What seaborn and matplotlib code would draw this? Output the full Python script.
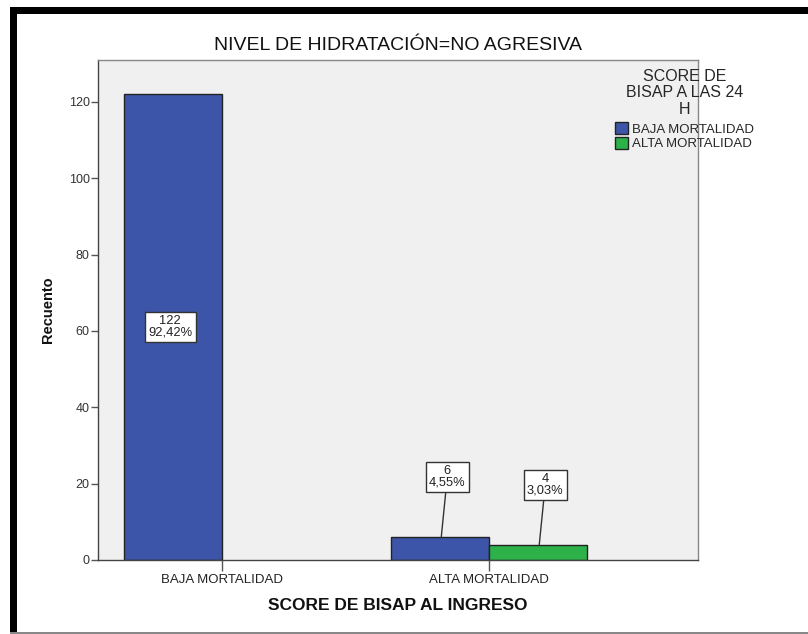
"""
Recuento de pacientes por score BISAP (ingreso vs. 24 h), hidratación no agresiva.
"""

import pandas as pd
import matplotlib.pyplot as plt
import seaborn as sns
from matplotlib.patches import Rectangle

# Datos
categorias_ingreso = ["BAJA MORTALIDAD", "ALTA MORTALIDAD"]
categorias_24h = ["BAJA MORTALIDAD", "ALTA MORTALIDAD"]
recuento_baja_24h = [122, 6]
recuento_alta_24h = [0, 4]
porcentaje_baja_24h = ["92,42%", "4,55%"]
porcentaje_alta_24h = ["", "3,03%"]

colores = ["#3D55A8", "#2DB24A"]

df = pd.DataFrame({
    "ingreso": categorias_ingreso * 2,
    "h24": [categorias_24h[0]] * 2 + [categorias_24h[1]] * 2,
    "recuento": recuento_baja_24h + recuento_alta_24h,
    "porcentaje": porcentaje_baja_24h + porcentaje_alta_24h,
})

sns.set_theme(style="white")
plt.rcParams["font.family"] = ["Liberation Sans", "DejaVu Sans"]

fig = plt.figure(figsize=(8.08, 6.34), dpi=100)
ax = fig.add_axes([98 / 808, 74 / 634, 600 / 808, 500 / 634])
ax.set_facecolor("#F0F0F0")

sns.barplot(
    data=df, x="ingreso", y="recuento", hue="h24",
    order=categorias_ingreso, hue_order=categorias_24h,
    palette=colores, saturation=1, width=0.734,
    edgecolor="#222222", linewidth=1, ax=ax,
)

# Etiquetas de las barras
for cont, h_level in zip(ax.containers, categorias_24h):
    sub = df[df["h24"] == h_level].set_index("ingreso").loc[categorias_ingreso]
    for bar, (_, row) in zip(cont, sub.iterrows()):
        if row["recuento"] == 0:
            bar.set_visible(False)
            continue
        txt = f"{row['recuento']}\n{row['porcentaje']}"
        cx = bar.get_x() + bar.get_width() / 2
        h = bar.get_height()
        box = dict(boxstyle="square,pad=0.25", fc="white", ec="#333333", lw=1)
        if h > 30:
            ax.text(cx - 0.01, h / 2, txt, ha="center", va="center",
                    fontsize=9.3, linespacing=0.95, bbox=box, color="#222222")
        else:
            ax.annotate(txt, xy=(cx + 0.005, h), xytext=(6, 60),
                        textcoords="offset pixels", ha="center", va="center",
                        fontsize=9.3, linespacing=0.95, bbox=box, color="#222222",
                        arrowprops=dict(arrowstyle="-", color="#333333", lw=1,
                                        shrinkA=0, shrinkB=0))

ax.set_xlim(-0.464, 1.783)
ax.set_ylim(0, 131)
ax.set_yticks(range(0, 121, 20))
ax.tick_params(axis="y", direction="out", length=5, width=1, color="#555555",
               labelsize=9, labelcolor="#333333", pad=1, left=True)
ax.tick_params(axis="x", direction="out", length=8, width=1, color="#555555",
               labelsize=9.5, labelcolor="#222222", pad=2, bottom=True)

for side in ["left", "bottom"]:
    ax.spines[side].set_color("#444444")
    ax.spines[side].set_linewidth(1)
for side in ["top", "right"]:
    ax.spines[side].set_color("#888888")
    ax.spines[side].set_linewidth(1)

ax.set_xlabel("SCORE DE BISAP AL INGRESO", fontsize=12.5, fontweight="bold",
              color="#111111", labelpad=9)
ax.set_ylabel("Recuento", fontsize=10.5, fontweight="bold", color="#111111",
              labelpad=10)
ax.set_title("NIVEL DE HIDRATACIÓN=NO AGRESIVA", fontsize=14,
             color="#111111", pad=7)

handles, labels = ax.get_legend_handles_labels()
ax.legend_.remove()
leg = fig.legend(
    handles, labels, title="SCORE DE\nBISAP A LAS 24\nH",
    loc="upper left", bbox_to_anchor=(606 / 808, 1 - 60 / 634),
    frameon=False, fontsize=9.5, title_fontsize=11.5,
    handlelength=1.0, handleheight=1.05, handletextpad=0.25,
    labelspacing=0.08, borderpad=0.2,
)
leg.get_title().set_multialignment("center")
leg.get_title().set_linespacing(1.1)
leg._legend_box.sep = 4

# Marco de la imagen
fig.add_artist(Rectangle((10 / 808, 0), 7 / 808, 1 - 7 / 634,
                         transform=fig.transFigure, color="black", lw=0))
fig.add_artist(Rectangle((10 / 808, 1 - 14 / 634), 798 / 808, 7 / 634,
                         transform=fig.transFigure, color="black", lw=0))
fig.add_artist(Rectangle((10 / 808, 0), 798 / 808, 2 / 634,
                         transform=fig.transFigure, color="#888888", lw=0))

plt.savefig("out.png", dpi=100)
